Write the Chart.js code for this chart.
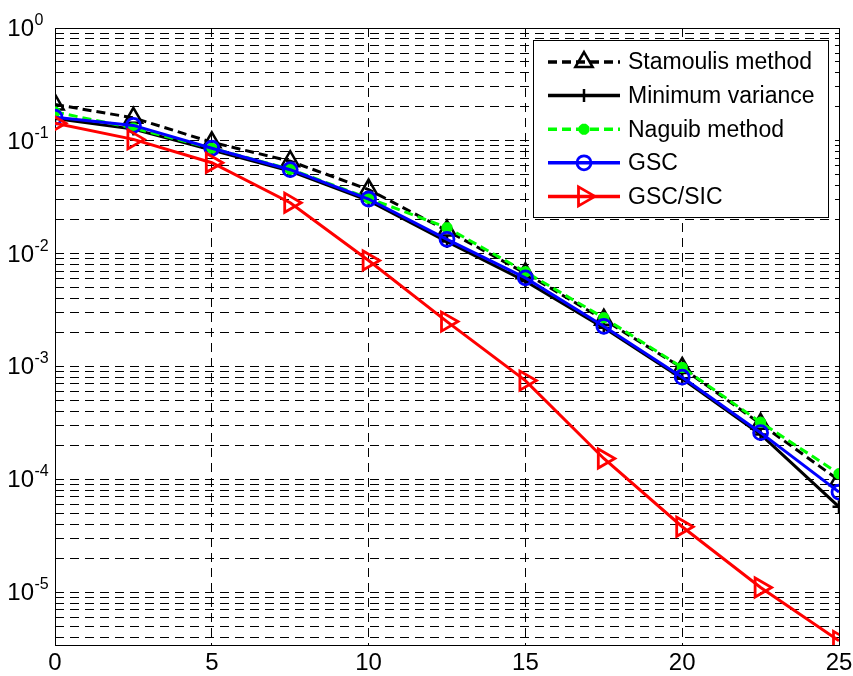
<!DOCTYPE html>
<html><head><meta charset="utf-8">
<script src="https://cdn.jsdelivr.net/npm/chart.js@4.4.1/dist/chart.umd.min.js"></script>
<style>html,body{margin:0;padding:0;background:#fff;}#wrap{position:relative;width:853px;height:676px;}</style>
</head><body><div id="wrap"><canvas id="c"></canvas></div>
<script>
// ---- data ----
const snr = [0, 2.5, 5, 7.5, 10, 12.5, 15, 17.5, 20, 22.5, 25];
const stamoulis = [0.21, 0.16, 0.097, 0.066, 0.037, 0.016, 0.0067, 0.0026, 0.00097, 0.00031, 0.000098];
const minVariance = [0.158, 0.127, 0.083, 0.054, 0.0295, 0.0128, 0.0057, 0.0022, 0.00078, 0.00025, 0.000057];
const naguib = [0.18, 0.13, 0.086, 0.056, 0.031, 0.017, 0.0069, 0.0027, 0.00098, 0.00032, 0.000112];
const gsc = [0.162, 0.137, 0.086, 0.0555, 0.0305, 0.0134, 0.0061, 0.00227, 0.000804, 0.000259, 0.000077];
const gscSic = [0.143, 0.103, 0.064, 0.0283, 0.0087, 0.0025, 0.00075, 0.000153, 0.000038, 0.000011, 0.0000037];
const seriesNames = ['Stamoulis method', 'Minimum variance', 'Naguib method', 'GSC', 'GSC/SIC'];
const xTicks = [0, 5, 10, 15, 20, 25];
const yTickExponents = [0, -1, -2, -3, -4, -5];
const yMin = 3.4e-6, yMax = 1;

const FONT = "'Liberation Sans', Arial, Helvetica, sans-serif";
const pts = arr => snr.map((x, i) => ({x: x, y: arr[i]}));
const NONE = 'rgba(0,0,0,0)';

const datasets = [
  {label: seriesNames[0], data: pts(stamoulis), borderColor: '#000', borderWidth: 3, borderDash: [9, 5],
   pointStyle: 'triangle', pointRadius: 10, pointBorderWidth: 2.5, pointBackgroundColor: NONE, pointBorderColor: '#000', order: 5},
  {label: seriesNames[1], data: pts(minVariance), borderColor: '#000', borderWidth: 3,
   pointStyle: 'cross', pointRadius: 6.5, pointBorderWidth: 2.5, pointBackgroundColor: NONE, pointBorderColor: '#000', order: 4},
  {label: seriesNames[2], data: pts(naguib), borderColor: '#00ff00', borderWidth: 3, borderDash: [9, 5],
   pointStyle: 'star', pointRadius: 5.5, pointBorderWidth: 4, pointBackgroundColor: '#00ff00', pointBorderColor: '#00ff00', order: 3},
  {label: seriesNames[3], data: pts(gsc), borderColor: '#0000ff', borderWidth: 3,
   pointStyle: 'circle', pointRadius: 7, pointBorderWidth: 2.8, pointBackgroundColor: NONE, pointBorderColor: '#0000ff', order: 2},
  {label: seriesNames[4], data: pts(gscSic), borderColor: '#ff0000', borderWidth: 3,
   pointStyle: 'triangle', pointRotation: 90, pointRadius: 11, pointBorderWidth: 2.8, pointBackgroundColor: NONE, pointBorderColor: '#ff0000', order: 1}
];
datasets.forEach(d => { d.fill = false; d.tension = 0; d.backgroundColor = NONE; });

const framePlugin = {
  id: 'frame',
  beforeDatasetsDraw(chart) {
    const a = chart.chartArea, ctx = chart.ctx;
    ctx.save();
    ctx.strokeStyle = '#000'; ctx.lineWidth = 1; ctx.setLineDash([]);
    ctx.strokeRect(Math.round(a.left) + 0.5, Math.round(a.top) + 0.5, Math.round(a.right - a.left), Math.round(a.bottom - a.top));
    ctx.restore();
  }
};

const yLabelPlugin = {
  id: 'yLabels',
  afterDraw(chart) {
    const ctx = chart.ctx, ys = chart.scales.y;
    const xBase = chart.chartArea.left - 21;
    ctx.save();
    ctx.fillStyle = '#000';
    ctx.textBaseline = 'alphabetic';
    yTickExponents.forEach(e => {
      const py = ys.getPixelForValue(Math.pow(10, e));
      ctx.font = '24px ' + FONT; ctx.textAlign = 'right';
      ctx.fillText('10', xBase, py + 8);
      ctx.font = '16px ' + FONT; ctx.textAlign = 'left';
      ctx.fillText(String(e), xBase + 0.5, py - 3);
    });
    ctx.restore();
  }
};

const legendPlugin = {
  id: 'matLegend',
  afterDraw(chart) {
    const ctx = chart.ctx, a = chart.chartArea;
    const bw = 295, bh = 177;
    const bx = a.right - 11 - bw, by = a.top + 12;
    ctx.save();
    ctx.fillStyle = '#fff';
    ctx.fillRect(bx, by, bw, bh);
    ctx.strokeStyle = '#000'; ctx.lineWidth = 1; ctx.setLineDash([]);
    ctx.strokeRect(Math.round(bx) + 0.5, Math.round(by) + 0.5, bw, bh);
    chart.data.datasets.forEach((d, i) => {
      const y = by + 22 + i * 33.6;
      const x1 = bx + 15, x2 = bx + 87, xm = (x1 + x2) / 2;
      ctx.strokeStyle = d.borderColor; ctx.lineWidth = d.borderWidth + 0.5;
      ctx.setLineDash(d.borderDash || []);
      ctx.beginPath(); ctx.moveTo(x1, y); ctx.lineTo(x2, y); ctx.stroke();
      ctx.setLineDash([]);
      ctx.strokeStyle = d.pointBorderColor; ctx.fillStyle = d.pointBackgroundColor;
      ctx.lineWidth = d.pointBorderWidth;
      Chart.helpers.drawPoint(ctx, {pointStyle: d.pointStyle, radius: d.pointRadius, rotation: d.pointRotation || 0, borderWidth: d.pointBorderWidth}, xm, y);
      ctx.fillStyle = '#000'; ctx.font = '23px ' + FONT; ctx.textAlign = 'left'; ctx.textBaseline = 'middle';
      ctx.fillText(d.label, bx + 95, y + 1);
    });
    ctx.restore();
  }
};

new Chart(document.getElementById('c'), {
  type: 'line',
  data: {datasets: datasets},
  options: {
    responsive: true, maintainAspectRatio: false, animation: false, events: [],
    layout: {padding: {top: 28, right: 14, left: 0, bottom: 0}},
    plugins: {legend: {display: false}, tooltip: {enabled: false}},
    scales: {
      x: {
        type: 'linear', min: 0, max: 25,
        afterBuildTicks: s => { s.ticks = xTicks.map(v => ({value: v})); },
        afterFit: s => { s.height = 31; s.paddingLeft = 0; s.paddingRight = 0; },
        ticks: {color: '#000', font: {family: FONT, size: 24}, padding: 4, maxRotation: 0, autoSkip: false},
        grid: {color: '#000', lineWidth: 1, drawTicks: false},
        border: {display: false, dash: [9, 6]}
      },
      y: {
        type: 'logarithmic', min: yMin, max: yMax,
        afterBuildTicks: s => {
          const t = [];
          for (let e = -6; e <= 0; e++) {
            for (let k = 1; k <= 9; k++) {
              const v = k * Math.pow(10, e);
              if (v >= yMin && v <= yMax) t.push({value: v});
            }
          }
          s.ticks = t;
        },
        afterFit: s => { s.width = 55; s.paddingTop = 0; s.paddingBottom = 0; },
        ticks: {display: false},
        grid: {color: '#000', lineWidth: 1, drawTicks: false},
        border: {display: false, dash: [9, 6]}
      }
    }
  },
  plugins: [framePlugin, yLabelPlugin, legendPlugin]
});
</script>
</body></html>
